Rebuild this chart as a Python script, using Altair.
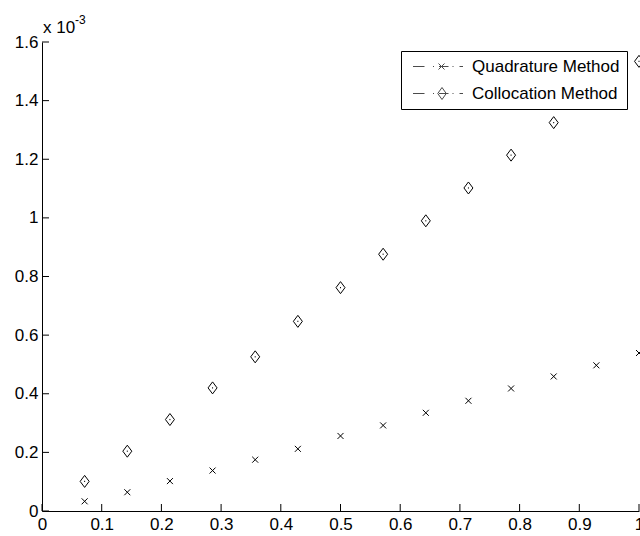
import altair as alt
import pandas as pd

# ---- data (y values in units of 1e-3) ----
x_positions = [0.0714, 0.1429, 0.2143, 0.2857, 0.3571, 0.4286, 0.5000,
               0.5714, 0.6429, 0.7143, 0.7857, 0.8571, 0.9286, 1.0000]
quadrature = [0.033, 0.064, 0.102, 0.138, 0.175, 0.212, 0.256,
              0.292, 0.335, 0.376, 0.418, 0.459, 0.497, 0.539]
collocation = [0.101, 0.204, 0.312, 0.420, 0.526, 0.647, 0.762,
               0.876, 0.990, 1.102, 1.214, 1.325, 1.430, 1.534]
series_names = ["Quadrature Method", "Collocation Method"]
x_ticks = [0, 0.1, 0.2, 0.3, 0.4, 0.5, 0.6, 0.7, 0.8, 0.9, 1]
y_ticks = [0, 0.2, 0.4, 0.6, 0.8, 1, 1.2, 1.4, 1.6]
exponent_base = ["x 10"]
exponent_sup = ["-3"]

rows = []
for name, vals in zip(series_names, [quadrature, collocation]):
    for xv, yv in zip(x_positions, vals):
        rows.append({"x": xv, "y": yv, "series": name})
df = pd.DataFrame(rows)

W, H = 597, 469
FONT = "Liberation Sans"
TICK = 7

x_scale = alt.Scale(domain=[0, 1], nice=False, zero=False)
y_scale = alt.Scale(domain=[0, 1.6], nice=False, zero=False)

CROSS = "M-0.5,-0.5L0.5,0.5M-0.5,0.5L0.5,-0.5"
DIAMOND = "M0,-1L0.75,0L0,1L-0.75,0Z M0,-0.1L0,0.1"
LINE = "M-0.7,0H1.6M3.3,0H3.5M4.5,0H6.4M7.2,0H7.4M8.6,0H9.3"
LEG_Q = LINE + "M4.4,-0.6L5.6,0.6M4.4,0.6L5.6,-0.6"
LEG_C = LINE + "M5.1,-1.2L5.95,0L5.1,1.2L4.25,0Z"

points = alt.Chart(df).mark_point(
    filled=False, color="black", strokeWidth=1, opacity=1, size=144
).encode(
    x=alt.X("x:Q", scale=x_scale,
            axis=alt.Axis(orient="bottom", values=x_ticks, format="~g", ticks=False,
                          grid=False, domain=True, labelPadding=5, title=None,
                          labelFlush=False, labelOverlap=False)),
    y=alt.Y("y:Q", scale=y_scale,
            axis=alt.Axis(orient="left", values=y_ticks, format="~g", ticks=False,
                          grid=False, domain=True, labelPadding=4, title=None,
                          labelFlush=False, labelOverlap=False)),
    shape=alt.Shape("series:N",
                    scale=alt.Scale(domain=series_names, range=[CROSS, DIAMOND]),
                    legend=None),
)

# inward tick marks (MATLAB style), positioned through the axis scales
x_tick_layer = alt.Chart(pd.DataFrame({"v": x_ticks})).mark_tick(
    orient="vertical", size=TICK, thickness=1, color="black", opacity=1
).encode(
    x=alt.X("v:Q", scale=x_scale, axis=None),
    y=alt.value(H - TICK / 2),
)

y_tick_layer = alt.Chart(pd.DataFrame({"v": y_ticks})).mark_tick(
    orient="horizontal", size=TICK, thickness=1, color="black", opacity=1
).encode(
    y=alt.Y("v:Q", scale=y_scale, axis=None),
    x=alt.value(TICK / 2),
)

legend_layer = alt.Chart(df).transform_filter("false").mark_point(
    filled=False, color="black", strokeWidth=1, size=100
).encode(
    x=alt.X("x:Q", scale=x_scale, axis=None),
    y=alt.Y("y:Q", scale=y_scale, axis=None),
    shape=alt.Shape("series:N",
                    scale=alt.Scale(domain=series_names, range=[LEG_Q, LEG_C]),
                    legend=alt.Legend(title=None, orient="none", legendX=359, legendY=9,
                                      fillColor="white", strokeColor="black", padding=7,
                                      symbolSize=100, symbolStrokeWidth=1,
                                      symbolStrokeColor="black", symbolFillColor="transparent",
                                      labelFont=FONT, labelFontSize=17, labelColor="black",
                                      labelOffset=47, rowPadding=9, cornerRadius=0,
                                      labelLimit=0,
                                      labelExpr="datum.label + '\u00a0\u00a0\u00a0\u2009'")),
)

exp_base = alt.Chart(pd.DataFrame({"t": exponent_base})).mark_text(
    align="left", baseline="alphabetic", font=FONT, fontSize=17, color="black"
).encode(text="t:N", x=alt.value(1), y=alt.value(-9))

exp_sup = alt.Chart(pd.DataFrame({"t": exponent_sup})).mark_text(
    align="left", baseline="alphabetic", font=FONT, fontSize=12, color="black"
).encode(text="t:N", x=alt.value(33), y=alt.value(-18))

chart = alt.layer(
    x_tick_layer, y_tick_layer, points, legend_layer, exp_base, exp_sup
).resolve_scale(
    shape="independent"
).resolve_axis(
    x="independent", y="independent"
).properties(
    width=W, height=H,
    autosize=alt.AutoSizeParams(type="none"),
    padding={"left": 42, "top": 42, "right": 1, "bottom": 25},
    background="white",
).configure_view(
    stroke=None
).configure_axis(
    domainColor="black", tickColor="black", labelColor="black",
    labelFont=FONT, labelFontSize=17, domainWidth=1, tickWidth=1,
)

chart.save("out.html", embed_options={"renderer": "svg", "actions": False})
